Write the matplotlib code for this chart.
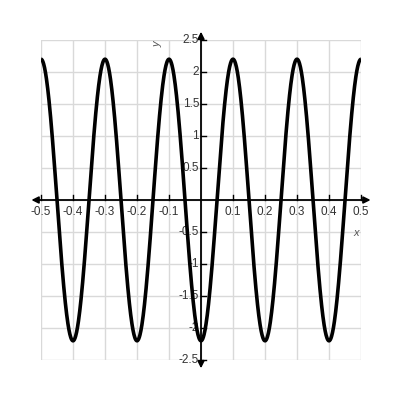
import numpy as np
import matplotlib.pyplot as plt

plt.rcParams['font.family'] = ['Liberation Sans', 'DejaVu Sans']

# curve: y = -amplitude * cos(2*pi*x/period)
amplitude = 2.2
period = 0.2
x_range = [-0.5, 0.5]
y_range = [-2.5, 2.5]

x_ticks = [-0.5, -0.4, -0.3, -0.2, -0.1, 0.1, 0.2, 0.3, 0.4, 0.5]
y_ticks = [-2.5, -2, -1.5, -1, -0.5, 0.5, 1, 1.5, 2, 2.5]
x_grid = [-0.5, -0.4, -0.3, -0.2, -0.1, 0, 0.1, 0.2, 0.3, 0.4, 0.5]
y_grid = [-2.5, -2, -1.5, -1, -0.5, 0, 0.5, 1, 1.5, 2, 2.5]

fig = plt.figure(figsize=(4, 4), dpi=100)
ax = fig.add_axes([0.1025, 0.1, 0.8, 0.8])
ax.set_xlim(x_range)
ax.set_ylim(y_range)

for gx in x_grid:
    ax.axvline(gx, color='#d9d9d9', lw=1, zorder=0)
for gy in y_grid:
    ax.axhline(gy, color='#d9d9d9', lw=1, zorder=0)

for s in ax.spines.values():
    s.set_visible(False)
ax.set_xticks([])
ax.set_yticks([])

# axes with arrows
ax.annotate('', xy=(0.53, 0), xytext=(-0.53, 0), annotation_clip=False,
            arrowprops=dict(arrowstyle='<|-|>', color='black', lw=1.3,
                            mutation_scale=10, shrinkA=0, shrinkB=0))
ax.annotate('', xy=(0, 2.63), xytext=(0, -2.63), annotation_clip=False,
            arrowprops=dict(arrowstyle='<|-|>', color='black', lw=1.3,
                            mutation_scale=10, shrinkA=0, shrinkB=0))

# tick marks and labels
for tx in x_ticks:
    ax.plot([tx, tx], [0, 0.08], color='black', lw=1, clip_on=False)
    ax.text(tx, -0.1, f'{tx:g}', ha='center', va='top', fontsize=8.5, color='#333333')
for ty in y_ticks:
    ax.plot([0, 0.016], [ty, ty], color='black', lw=1, clip_on=False)
    ax.text(-0.006, ty, f'{ty:g}', ha='right', va='center', fontsize=8.5, color='#333333')

ax.text(0.484, -0.52, 'x', fontsize=8, style='italic', color='#555555', ha='center', va='center')
ax.text(-0.135, 2.43, 'y', fontsize=8, style='italic', color='#555555', ha='center', va='center',
        rotation=90)

x = np.linspace(x_range[0], x_range[1], 1000)
y = -amplitude * np.cos(2 * np.pi * x / period)
ax.plot(x, y, color='black', lw=2.6, zorder=5, solid_capstyle='butt')

fig.savefig('out.png', dpi=100)
